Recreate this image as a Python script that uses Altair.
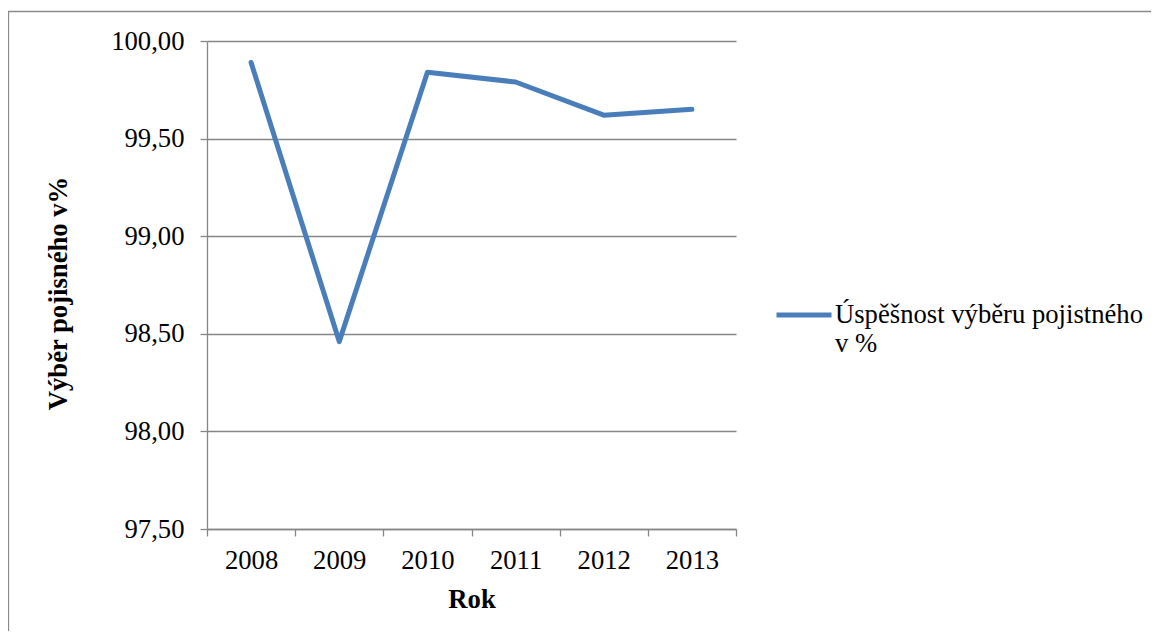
import altair as alt
import pandas as pd

# ---- data ----
years = ["2008", "2009", "2010", "2011", "2012", "2013"]
values = [99.89, 98.46, 99.84, 99.79, 99.62, 99.65]
series_name = "Úspěšnost výběru pojistného v %"
legend_lines = ["Úspěšnost výběru pojistného", "v %"]
y_ticks = [97.5, 98.0, 98.5, 99.0, 99.5, 100.0]
y_title = "Výběr pojisného v%"
x_title = "Rok"

df = pd.DataFrame({"Rok": years, "value": values, "series": [series_name] * len(years)})

FONT = "Liberation Serif"
FS = 26.67
GRID = "#868686"
BLUE = "#4A7EBB"

legend_expr = "[" + ", ".join("'" + s + "'" for s in legend_lines) + "]"

line = alt.Chart(df).mark_line(
    strokeWidth=5, strokeCap="round", strokeJoin="round"
).encode(
    x=alt.X(
        "Rok:O",
        bandPosition=0.5,
        scale=alt.Scale(type="band", paddingInner=0, paddingOuter=0),
        axis=alt.Axis(
            title=x_title, labelAngle=0, tickBand="extent", tickSize=7,
            labelPadding=11, labelBaseline="top", grid=False,
            domainColor=GRID, tickColor=GRID, domainWidth=1.3, tickWidth=1.3,
            labelFont=FONT, labelFontSize=FS, labelColor="black",
            titleFont=FONT, titleFontSize=FS, titleFontWeight="bold", titleColor="black",
            titleY=78, titleBaseline="alphabetic",
        ),
    ),
    y=alt.Y(
        "value:Q",
        scale=alt.Scale(domain=[97.5, 100], nice=False, zero=False),
        axis=alt.Axis(
            values=y_ticks,
            labelExpr="replace(format(datum.value, '.2f'), '.', ',')",
            title=y_title, tickSize=7, labelPadding=16, grid=True,
            gridColor=GRID, gridWidth=1.3, domainColor=GRID, tickColor=GRID,
            domainWidth=1.3, tickWidth=1.3,
            labelFont=FONT, labelFontSize=FS, labelColor="black",
            titleFont=FONT, titleFontSize=FS, titleFontWeight="bold", titleColor="black",
            titleAngle=270, titleX=-141, titleY=252, titleBaseline="alphabetic",
            titleAlign="center",
        ),
    ),
    color=alt.Color(
        "series:N",
        scale=alt.Scale(range=[BLUE]),
        legend=alt.Legend(
            title=None, orient="none", legendX=567, legendY=244,
            symbolType="stroke", symbolSize=3025, symbolStrokeWidth=5,
            labelFont=FONT, labelFontSize=FS, labelColor="black",
            labelLimit=500, labelOffset=1, padding=0,
            labelExpr=legend_expr,
        ),
    ),
)

border = alt.Chart(pd.DataFrame({"k": [0]})).mark_rect(
    filled=False, stroke="#8a8a8a", strokeWidth=1.3
).encode(
    x=alt.value(-198.5), y=alt.value(-29.5), x2=alt.value(1400), y2=alt.value(900)
)

chart = alt.layer(border, line).properties(
    width=529,
    height=488,
    autosize=alt.AutoSizeParams(type="none"),
    padding={"left": 199, "top": 33, "right": 415, "bottom": 102},
    background="white",
).configure_view(strokeWidth=0)

chart.save("out.html", embed_options={"renderer": "svg", "actions": False})
